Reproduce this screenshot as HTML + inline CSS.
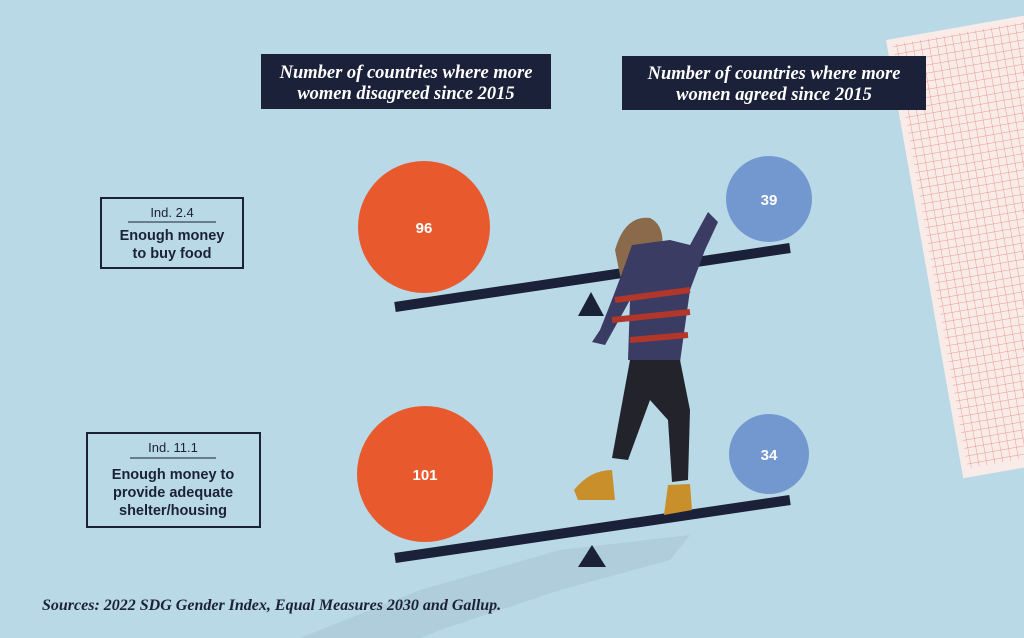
<!DOCTYPE html>
<html><head><meta charset="utf-8"><style>
body{margin:0;width:1024px;height:638px;overflow:hidden;background:#b9d9e7;}
svg{display:block}
.h{font-family:"Liberation Serif",serif;font-style:italic;font-weight:bold;fill:#fff;font-size:18.5px}
.l{font-family:"Liberation Sans",sans-serif;fill:#1b2138;text-anchor:middle}
.n{font-family:"Liberation Sans",sans-serif;font-weight:bold;fill:#fff;font-size:15px;text-anchor:middle}
</style></head><body>
<svg width="1024" height="638" viewBox="0 0 1024 638">
<defs>
<pattern id="g" width="8" height="8" patternUnits="userSpaceOnUse">
<path d="M8 0V8M0 8H8" stroke="#ec7c70" stroke-width="0.7" fill="none"/>
</pattern>
</defs>
<rect width="1024" height="638" fill="#b9d9e7"/>
<g transform="rotate(-10 886 40)">
<rect x="886" y="40" width="200" height="445" fill="#f9ebe7"/>
<rect x="892" y="46" width="200" height="430" fill="url(#g)"/>
</g>
<path d="M300 638 L420 590 L560 550 L690 535 L670 560 L560 590 L440 630 L420 638Z" fill="#a9c4d2" opacity="0.6"/>
<rect x="261" y="54" width="290" height="55" fill="#1b2138"/>
<text class="h" x="406" y="78" text-anchor="middle">Number of countries where more</text>
<text class="h" x="406" y="99" text-anchor="middle">women disagreed since 2015</text>
<rect x="622" y="56" width="304" height="54" fill="#1b2138"/>
<text class="h" x="774" y="79" text-anchor="middle">Number of countries where more</text>
<text class="h" x="774" y="100" text-anchor="middle">women agreed since 2015</text>

<rect x="101" y="198" width="142" height="70" fill="none" stroke="#1b2138" stroke-width="2"/>
<text class="l" x="172" y="217" font-size="13">Ind. 2.4</text>
<line x1="128" y1="222" x2="216" y2="222" stroke="#1b2138" stroke-width="1"/>
<text class="l" x="172" y="240" font-size="14.5" font-weight="bold">Enough money</text>
<text class="l" x="172" y="258" font-size="14.5" font-weight="bold">to buy food</text>

<rect x="87" y="433" width="173" height="94" fill="none" stroke="#1b2138" stroke-width="2"/>
<text class="l" x="173" y="452" font-size="13">Ind. 11.1</text>
<line x1="130" y1="458" x2="216" y2="458" stroke="#1b2138" stroke-width="1"/>
<text class="l" x="173" y="479" font-size="14.5" font-weight="bold">Enough money to</text>
<text class="l" x="173" y="497" font-size="14.5" font-weight="bold">provide adequate</text>
<text class="l" x="173" y="515" font-size="14.5" font-weight="bold">shelter/housing</text>

<line x1="395" y1="307" x2="790" y2="248" stroke="#1b2138" stroke-width="10"/>
<line x1="395" y1="558" x2="790" y2="500" stroke="#1b2138" stroke-width="10"/>
<polygon points="578,316 604,316 591,292" fill="#1b2138"/>
<polygon points="578,567 606,567 592,545" fill="#1b2138"/>

<circle cx="424" cy="227" r="66" fill="#e85a2e"/>
<text class="n" x="424" y="233">96</text>
<circle cx="425" cy="474" r="68" fill="#e85a2e"/>
<text class="n" x="425" y="480">101</text>
<circle cx="769" cy="199" r="43" fill="#7298cf"/>
<text class="n" x="769" y="205">39</text>
<circle cx="769" cy="454" r="40" fill="#7298cf"/>
<text class="n" x="769" y="460">34</text>

<path d="M615 250 Q625 215 650 218 Q665 225 662 250 L655 290 L625 300 Z" fill="#8a6a4a"/>
<path d="M632 245 Q620 280 600 330 L592 342 L605 345 L630 300 L628 360 L680 362 L690 290 L705 250 L718 222 L708 212 L690 245 L670 240 Z" fill="#3b3c63"/>
<path d="M615 300 L690 290 M612 320 L690 312 M630 340 L688 335" stroke="#b2372a" stroke-width="6"/>
<path d="M630 360 L680 360 L690 410 L688 480 L672 482 L668 420 L650 400 L628 460 L612 458 Z" fill="#22232b"/>
<path d="M574 490 Q590 470 612 470 L615 500 L578 500Z" fill="#c98f2a"/>
<path d="M668 485 L690 484 L692 510 L664 515Z" fill="#c98f2a"/>

<text x="42" y="610" font-family="Liberation Serif,serif" font-style="italic" font-weight="bold" font-size="16" fill="#1b2138">Sources: 2022 SDG Gender Index, Equal Measures 2030 and Gallup.</text>
</svg>
</body></html>
